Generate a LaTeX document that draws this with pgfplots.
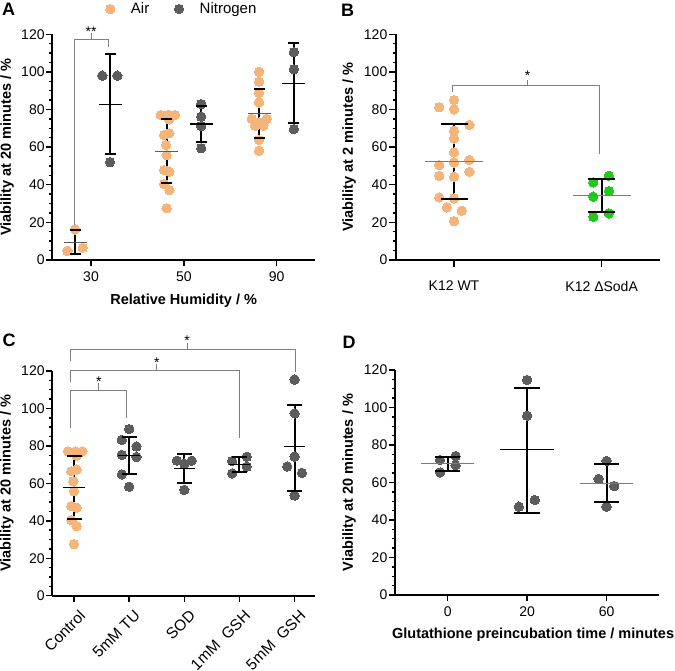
\documentclass[border=0pt]{standalone}
\usepackage{fontspec}
\setmainfont{Liberation Sans}
\usepackage{pgfplots}
\pgfplotsset{compat=1.18}
\definecolor{air}{HTML}{F5B47A}
\definecolor{nit}{HTML}{5C5C5C}
\definecolor{grn}{HTML}{22C81E}
\definecolor{brk}{HTML}{7F7F7F}
\definecolor{mgray}{HTML}{7A7A7A}
\newcommand{\fs}[1]{\fontsize{#1}{#1}\selectfont}
\pgfplotsset{
  gp/.style={
    scale only axis, axis lines=left,
    axis line style={-, line width=2pt, black},
    ymin=0, ymax=120, ytick={0,20,...,120}, minor y tick num=3,
    tick align=outside, major tick length=6pt, minor tick length=3.5pt,
    tick style={black, line width=1.4pt},
    clip=false, unbounded coords=jump,
    /pgf/number format/assume math mode=true,
    ticklabel style={font=\fs{14}},
    yticklabel style={inner xsep=1.5pt},
    xticklabel style={yshift=-2.5pt},
    label style={font=\bfseries\fs{14.5}},
  },
  pts/.style={only marks, mark=*, mark size=4.7pt, mark options={draw=#1, fill=#1, line width=0pt}},
  meanl/.style 2 args={only marks, mark=-, mark size=#1, mark options={draw=#2, line width=1.1pt}, forget plot},
  capl/.style={only marks, mark=-, mark size=#1, mark options={draw=black, line width=2pt}, forget plot},
  stem/.style={black, line width=2pt, mark=none, forget plot},
  brack/.style={brk, line width=1pt, mark=none, forget plot},
}
\begin{document}
\begin{tikzpicture}
\useasboundingbox (0pt,0pt) rectangle (675pt,-670pt);
\node[font=\bfseries\fs{18}] at (8.5pt,-9pt) {A};
\node[font=\bfseries\fs{18}] at (347.5pt,-10pt) {B};
\node[font=\bfseries\fs{18}] at (9pt,-340pt) {C};
\node[font=\bfseries\fs{18}] at (349pt,-342.5pt) {D};
% ---------------- A
\begin{axis}[gp, at={(52.3pt,-260pt)}, anchor=south west, width=262.7pt, height=225.7pt,
  xmin=-0.417, xmax=2.413, xtick={0,1,2}, xticklabels={30,50,90},
  xlabel={Relative Humidity / \%}, ylabel={Viability at 20 minutes / \%},
  xlabel style={at={(axis description cs:0.5,-0.1817)}, anchor=center},
  ylabel style={at={(axis description cs:-0.172,0.5)}, anchor=center},
  legend style={at={(axis description cs:0.2021,1.112)}, anchor=west, draw=none, fill=none,
    legend columns=2, font=\fs{15}, inner sep=0pt,
    /tikz/every odd column/.append style={column sep=14pt},
    /tikz/every even column/.append style={column sep=23pt}},
  legend image code/.code={\draw[#1] plot coordinates {(0pt,0pt)};},
]
\addplot[pts=air] coordinates {
(-0.172,16.3) (-0.255,4.8) (-0.089,6.5)
(0.751,77.1) (0.833,77.1) (0.905,77.1) (0.844,74.8) (0.787,66.5) (0.844,67.4)
(0.808,61.1) (0.815,55.8) (0.787,47.8) (0.844,47.0) (0.787,40.4) (0.844,37.2) (0.815,27.5)
(1.810,100.1) (1.810,94.8) (1.810,88.9) (1.810,83.8) (1.732,75.0) (1.893,75.0)
(1.810,73.2) (1.767,71.4) (1.857,71.4) (1.810,63.8) (1.810,58.1)};
\addlegendentry{Air}
\addplot[pts=nit] coordinates {
(0.122,98) (0.284,98) (0.205,52)
(1.187,82.9) (1.187,76.2) (1.187,71.2) (1.187,59.4)
(2.185,110.5) (2.185,101.4) (2.185,69.6)};
\addlegendentry{Nitrogen}
\addplot[stem] coordinates {(-0.172,3.0) (-0.172,15.9) (0,nan) (0.815,41.1) (0.815,74.8) (0,nan) (1.810,65) (1.810,91)
 (0,nan) (0.205,56.2) (0.205,109.4) (0,nan) (1.187,62.5) (1.187,82) (0,nan) (2.185,72.6) (2.185,115.4)};
\addplot[capl=5.5pt] coordinates {(-0.172,3.0) (-0.172,15.9) (0.815,41.1) (0.815,74.8) (1.810,65) (1.810,91)
 (0.205,56.2) (0.205,109.4) (1.187,62.5) (1.187,82) (2.185,72.6) (2.185,115.4)};
\addplot[meanl={11.5pt}{nit}] coordinates {(-0.172,9.2) (0.815,57.9) (1.810,77.8)};
\addplot[meanl={11.5pt}{black}] coordinates {(0.205,82.8) (1.187,72.3) (2.185,94)};
\addplot[brack] coordinates {(-0.18,16.8) (-0.18,117) (0.19,117) (0.19,113) (0,nan) (0,117) (0,120.5)};
\node[font=\fs{14}, yshift=-2.5pt] at (axis cs:0,122.7) {**};
\end{axis}
% ---------------- B
\begin{axis}[gp, at={(396pt,-260pt)}, anchor=south west, width=264pt, height=225.7pt,
  xmin=-0.393, xmax=1.395, xtick={0,1}, xticklabels={K12 WT, K12 ΔSodA},
  xticklabel style={yshift=-8pt}, major tick length=7pt,
  ylabel={Viability at 2 minutes / \%},
  ylabel style={at={(axis description cs:-0.178,0.5)}, anchor=center},
]
\addplot[pts=air, forget plot] coordinates {
(0,85.1) (-0.10,81.2) (0,80.1) (0.104,71.8) (0,68.7) (0,64.7) (0,57.2) (-0.10,50.5) (0,51.9)
(0.104,53.2) (0.104,46.9) (-0.10,44.7) (0,44.3) (-0.10,33.3) (0,32.8) (-0.049,28) (0.052,26.2) (0,20.6)};
\addplot[pts=grn, forget plot] coordinates {
(1.049,44.8) (0.943,41.3) (1.049,36.7) (0.943,33.7) (0.943,23) (1.049,24.8)};
\addplot[stem] coordinates {(0,32.4) (0,72.2) (0,nan) (1,25.4) (1,42.9)};
\addplot[capl=13.5pt] coordinates {(0,32.4) (0,72.2) (1,25.4) (1,42.9)};
\addplot[meanl={29pt}{mgray}] coordinates {(0,52.3) (1,34.3)};
\addplot[brack] coordinates {(-0.012,89.2) (-0.012,92.9) (0.984,92.9) (0.984,56.4) (0,nan) (0.499,92.9) (0.499,95.7)};
\node[font=\fs{14}, yshift=-2.5pt] at (axis cs:0.499,99.3) {*};
\end{axis}
% ---------------- C
\begin{axis}[gp, at={(52.3pt,-595.7pt)}, anchor=south west, width=262.7pt, height=224.7pt,
  xmin=-0.394, xmax=4.37, xtick={0,1,2,3,4},
  xticklabels={Control, 5mM TU, SOD, 1mM\ \ GSH, 5mM\ \ GSH},
  xticklabel style={rotate=45, anchor=north east, font=\fs{15.5}, xshift=3pt, yshift=-3pt},
  ylabel={Viability at 20 minutes / \%},
  ylabel style={at={(axis description cs:-0.1725,0.5)}, anchor=center},
]
\addplot[pts=air, forget plot] coordinates {
(-0.109,77.1) (0.029,77.1) (0.151,77.1) (0.047,74.8) (-0.049,66.5) (0.047,67.4) (-0.013,61.1)
(0,55.8) (-0.049,47.8) (0.047,47.0) (-0.049,40.4) (0.047,37.2) (0,27.5)};
\addplot[pts=nit, forget plot] coordinates {
(1,89) (0.867,83.2) (1.133,79.7) (0.867,75.2) (1.133,74.1) (0.867,64.8) (1,58.2)
(1.867,72.1) (2.133,72.1) (2,70.5) (2,56.5)
(2.867,71.9) (3.133,74.2) (2.867,65.3) (3.133,68.9)
(4,115.4) (4,97.4) (4,74.3) (3.867,69) (4.133,65.6) (4,53.5)};
\addplot[stem] coordinates {(0,40.8) (0,74.8) (0,nan) (1,65.2) (1,84.7) (0,nan) (2,60.3) (2,75.5)
 (0,nan) (3,65.9) (3,73.9) (0,nan) (4,56) (4,101.8)};
\addplot[capl=7.5pt] coordinates {(0,40.8) (0,74.8) (1,65.2) (1,84.7) (2,60.3) (2,75.5) (3,65.9) (3,73.9) (4,56) (4,101.8)};
\addplot[meanl={10.8pt}{black}] coordinates {(0,57.8) (1,74.9) (2,68) (3,70.1) (4,79.5)};
\addplot[brack] coordinates {(-0.073,89.4) (-0.073,109.8) (0.944,109.8) (0.944,95.1) (0,nan) (0.45,109.8) (0.45,113.4)};
\addplot[brack] coordinates {(-0.073,113.9) (-0.073,120.2) (2.995,120.2) (2.995,84.4) (0,nan) (1.5,120.2) (1.5,123.7)};
\addplot[brack] coordinates {(-0.073,125.3) (-0.073,131.6) (4.01,131.6) (4.01,119.6) (0,nan) (2.05,131.6) (2.05,135.1)};
\node[font=\fs{14}, yshift=-2.5pt] at (axis cs:0.45,115.6) {*};
\node[font=\fs{14}, yshift=-2.5pt] at (axis cs:1.5,125.9) {*};
\node[font=\fs{14}, yshift=-2.5pt] at (axis cs:2.05,137.7) {*};
\end{axis}
% ---------------- D
\begin{axis}[gp, at={(395pt,-595pt)}, anchor=south west, width=264pt, height=225pt,
  xmin=-0.663, xmax=2.66, xtick={0,1,2}, xticklabels={0,20,60},
  xlabel={Glutathione preincubation time / minutes}, ylabel={Viability at 20 minutes / \%},
  xlabel style={at={(axis description cs:0.523,-0.178)}, anchor=center},
  ylabel style={at={(axis description cs:-0.174,0.5)}, anchor=center},
]
\addplot[pts=nit, forget plot] coordinates {
(-0.096,72) (0.1,74.1) (0.1,69.2) (-0.096,65.4)
(1,114.7) (1,95.6) (0.896,47.1) (1.096,50.7)
(2,71.5) (1.9,61.9) (2.096,58.1) (2,47.1)};
\addplot[stem] coordinates {(0,66.1) (0,73.8) (0,nan) (1,43.6) (1,110.6) (0,nan) (2,49.8) (2,69.9)};
\addplot[capl=12.7pt] coordinates {(0,66.1) (0,73.8) (1,43.6) (1,110.6) (2,49.8) (2,69.9)};
\addplot[meanl={26.7pt}{mgray}] coordinates {(0,70) (2,59.7)};
\addplot[meanl={26.7pt}{black}] coordinates {(1,77.5)};
\end{axis}
\end{tikzpicture}
\end{document}
